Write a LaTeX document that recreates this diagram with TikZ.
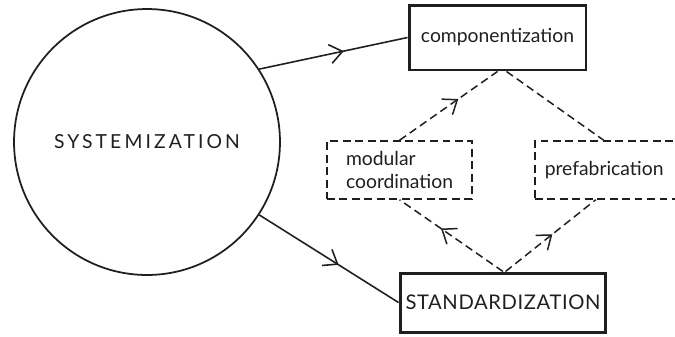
\documentclass[tikz,border=0pt]{standalone}
\usepackage{fontspec}
\setmainfont{Lato}
\newfontfamily\widecaps[LetterSpace=16]{Lato}
\newfontfamily\boxcaps[LetterSpace=3]{Lato}
\usepackage{tikz}
\usetikzlibrary{positioning, arrows.meta, decorations.markings}

\colorlet{ink}{black!88}

\tikzset{
    mainbox/.style={draw=ink, line width=1.7pt, rectangle, inner sep=0pt},
    subbox/.style={draw=ink, line width=0.85pt, dash pattern=on 4.5pt off 2.6pt,
        rectangle, inner sep=0pt, minimum height=1.16cm},
    solidline/.style={draw=ink, line width=0.9pt},
    dashline/.style={draw=ink, line width=0.85pt, dash pattern=on 4.5pt off 2.6pt},
    midarrow/.style={postaction={decorate},
        decoration={markings, mark=at position #1 with {\arrow{>}}}}
}

\begin{document}
\begin{tikzpicture}[x=0.02cm, y=-0.02cm, >={Straight Barb[length=2.5mm, width=3.8mm]},
    every node/.style={text=ink, font=\fontsize{11}{13}\selectfont}]
    \useasboundingbox (0,0) rectangle (675,336);
    \clip (0,0) rectangle (675,336);

    % the big circle and the four boxes
    \node[circle, draw=ink, line width=1pt, minimum size=5.32cm, inner sep=0pt] (sys) at (147,142) {\widecaps SYSTEMIZATION};
    \node[mainbox, minimum width=3.54cm, minimum height=1.3cm] (comp) at (497.5,37.5) {componentization};
    \node[mainbox, minimum width=4.12cm, minimum height=1.18cm, font=\fontsize{11.5}{14}\selectfont] (std) at (503,302.5) {\boxcaps STANDARDIZATION};
    \node[subbox, minimum width=2.9cm, align=left] (mod) at (399.5,170) {modular\\coordination};
    % runs off the right edge of the page
    \node[subbox, anchor=west, text width=2.9cm, inner xsep=0.2cm, align=left] (pre) at (534,170) {prefabrication};

    % solid links out of the circle
    \draw[solidline, midarrow=0.57] (sys.33) -- (comp.west);
    \draw[solidline, midarrow=0.57] (sys.-33) -- (std.west);

    % dashed diamond
    \draw[dashline, midarrow=0.6] (std.north) -- (mod.south);
    \draw[dashline, midarrow=0.52] ([xshift=0.05cm]std.north) -- ([xshift=-0.43cm]pre.south);
    \draw[dashline, midarrow=0.6] (mod.north) -- (comp.south);
    \draw[dashline] ([xshift=0.18cm]comp.south) -- ([xshift=-0.27cm]pre.north);
\end{tikzpicture}
\end{document}
